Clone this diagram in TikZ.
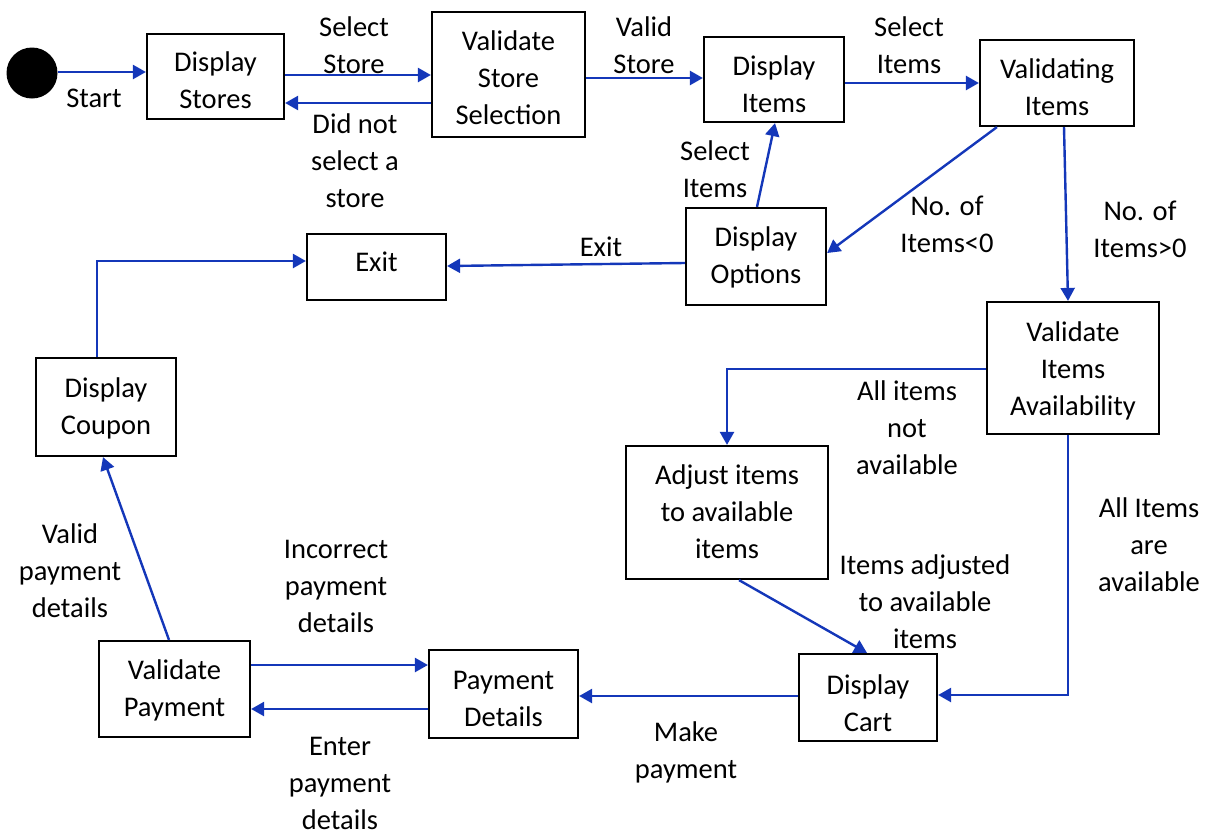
\documentclass[tikz,border=0pt]{standalone}
\usepackage{fontspec}
\setmainfont{Carlito}
\usetikzlibrary{arrows.meta}
\definecolor{flow}{RGB}{20,55,185}
\tikzset{
  % th = height of the text block above the last baseline; it sets where the lines sit
  txt/.style={font=\fontsize{28.5}{37}\selectfont, align=center, text depth=0pt, text height=#1pt},
  state/.style={txt=#1, draw=black, line width=2.2pt, inner sep=0pt},
  lbl/.style={txt=#1, inner sep=0pt},
  flowline/.style={draw=flow, line width=2.4pt, -{Triangle[length=13pt,width=14pt]}}
}
\begin{document}
\lineskiplimit=-100pt
\begin{tikzpicture}[x=1pt,y=-1pt]
\useasboundingbox (0,0) rectangle (1206,833);

% initial pseudo-state
\node[fill=black, circle, minimum size=51pt, inner sep=0pt] (start) at (32,73) {};

% states
\node[state=64,  minimum width=137pt, minimum height=85pt]  (ds)   at (215.5,76.5) {Display\\Stores};
\node[state=100, minimum width=153pt, minimum height=125pt] (vss)  at (508.5,74.5) {Validate\\Store\\Selection};
\node[state=66,  minimum width=140pt, minimum height=85pt]  (di)   at (774,79.5) {Display\\Items};
\node[state=64,  minimum width=154pt, minimum height=86pt]  (vi)   at (1057,83) {Validating\\Items};
\node[state=53,  minimum width=140pt, minimum height=97pt]  (dopt) at (756,256.5) {Display\\Options};
\node[state=8,   minimum width=139pt, minimum height=66pt]  (exit) at (376.5,267) {Exit};
\node[state=94,  minimum width=172pt, minimum height=132pt] (via)  at (1073,368) {Validate\\Items\\Availability};
\node[state=54,  minimum width=140pt, minimum height=98pt]  (cpn)  at (106,407) {Display\\Coupon};
\node[state=91,  minimum width=202pt, minimum height=133pt] (adj)  at (727,512.5) {Adjust items\\to available\\items};
\node[state=67,  minimum width=138pt, minimum height=87pt]  (cart) at (868,697.5) {Display\\Cart};
\node[state=65,  minimum width=149pt, minimum height=88pt]  (pd)   at (503.5,694) {Payment\\Details};
\node[state=54,  minimum width=151pt, minimum height=96pt]  (vp)   at (174.5,689) {Validate\\Payment};

% transitions
\draw[flowline] ([yshift=1pt]start.east) -- ([yshift=1pt]start.east -| ds.west);
\draw[flowline] ([yshift=1.5pt]ds.east) -- ([yshift=1.5pt]ds.east -| vss.west);
\draw[flowline] ([yshift=-28.5pt]vss.west) -- ([yshift=-28.5pt]vss.west -| ds.east);
\draw[flowline] ([yshift=-3.5pt]vss.east) -- ([yshift=-3.5pt]vss.east -| di.west);
\draw[flowline] ([yshift=-3.5pt]di.east) -- ([yshift=-3.5pt]di.east -| vi.west);
\draw[flowline] ([xshift=1pt]dopt.north) -- ([xshift=1pt]di.south);
\draw[flowline] ([xshift=18pt]vi.south west) -- ([yshift=3.5pt]dopt.east);
\draw[flowline] ([xshift=7pt]vi.south) -- ([xshift=-5pt]via.north);
\draw[flowline] ([yshift=-6.5pt]dopt.west) -- ([yshift=1pt]exit.east);
\draw[flowline] ([xshift=-9pt]cpn.north) |- ([yshift=6pt]exit.west);
\draw[flowline] ([yshift=-1pt]via.west) -| (adj.north);
\draw[flowline] ([xshift=-5pt]via.south) |- ([yshift=2.5pt]cart.east);
\draw[flowline] ([xshift=12pt]adj.south) -- ([xshift=-1pt]cart.north);
\draw[flowline] ([yshift=1.5pt]cart.west) -- ([yshift=1.5pt]cart.west -| pd.east);
\draw[flowline] ([yshift=24pt]vp.east) -- ([yshift=24pt]vp.east -| pd.west);
\draw[flowline] ([yshift=-15pt]pd.west) -- ([yshift=-15pt]pd.west -| vp.east);
\draw[flowline] ([xshift=-5.5pt]vp.north) -- ([xshift=-3pt]cpn.south);

% transition labels
\node[lbl=18] (lStart)  at (94,98)     {Start};
\node[lbl=58] (lSelSt)  at (354,44.5)  {Select\\Store};
\node[lbl=95] (lNoSel)  at (355,160)   {Did not\\select a\\store};
\node[lbl=58] (lValSt)  at (644,44)    {Valid\\Store};
\node[lbl=58] (lSelIt)  at (909,44)    {Select\\Items};
\node[lbl=58] (lSelIt2) at (715,168.5) {Select\\Items};
\node[lbl=58] (lNeg)    at (947,223.5) {No. of\\Items<0};
\node[lbl=58] (lPos)    at (1140,228.5){No. of\\Items>0};
\node[lbl=18] (lExit)   at (601,247)   {Exit};
\node[lbl=95] (lNotAv)  at (907,427)   {All items\\not\\available};
\node[lbl=95] (lAllAv)  at (1149,544)  {All Items\\are\\available};
\node[lbl=95] (lAdj)    at (925,601)   {Items adjusted\\to available\\items};
\node[lbl=95] (lValPay) at (70,570)    {Valid\\payment\\details};
\node[lbl=95] (lBadPay) at (336,585)   {Incorrect\\payment\\details};
\node[lbl=95] (lEnter)  at (340,781.5) {Enter\\payment\\details};
\node[lbl=58] (lMake)   at (686,749.5) {Make\\payment};
\end{tikzpicture}
\end{document}
